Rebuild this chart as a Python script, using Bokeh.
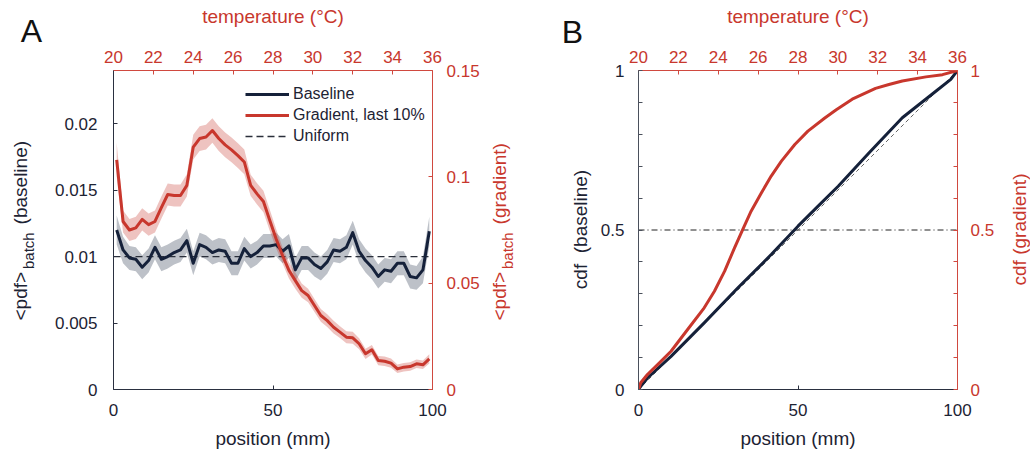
import math
from bokeh.plotting import figure
from bokeh.models import Range1d, LinearAxis, FixedTicker, Label, Legend, LegendItem
from bokeh.layouts import row
from bokeh.embed import file_html
from bokeh.resources import INLINE

# ---------------- data ----------------
position_mm = [1, 3, 5, 7, 9, 11, 13, 15, 17, 19, 21, 23, 25, 27, 29, 31, 33, 35, 37, 39,
               41, 43, 45, 47, 49, 51, 53, 55, 57, 59, 61, 63, 65, 67, 69, 71, 73, 75, 77, 79,
               81, 83, 85, 87, 89, 91, 93, 95, 97, 99]

baseline_pdf = [0.0120, 0.0105, 0.0099, 0.0098, 0.0092, 0.0097, 0.0107, 0.0098, 0.0100, 0.0103,
                0.0105, 0.0112, 0.0095, 0.0109, 0.0107, 0.0103, 0.0105, 0.0104, 0.0095, 0.0095,
                0.0106, 0.0100, 0.0103, 0.0108, 0.0108, 0.0109, 0.0104, 0.0108, 0.0090, 0.0099,
                0.0099, 0.0094, 0.0091, 0.0096, 0.0105, 0.0104, 0.0107, 0.0118, 0.0104, 0.0097,
                0.0092, 0.0085, 0.0090, 0.0089, 0.0095, 0.0095, 0.0085, 0.0084, 0.0090, 0.0119]

baseline_sem = [0.0011, 0.0010, 0.0009, 0.0009, 0.0009, 0.0009, 0.0009, 0.0009, 0.0009, 0.0009,
                0.0009, 0.0009, 0.0009, 0.0009, 0.0009, 0.0009, 0.0009, 0.0009, 0.0009, 0.0009,
                0.0009, 0.0009, 0.0009, 0.0009, 0.0009, 0.0009, 0.0009, 0.0009, 0.0009, 0.0009,
                0.0009, 0.0009, 0.0009, 0.0009, 0.0009, 0.0009, 0.0009, 0.0009, 0.0009, 0.0009,
                0.0009, 0.0009, 0.0009, 0.0009, 0.0009, 0.0009, 0.0009, 0.0009, 0.0010, 0.0011]

gradient_pdf = [0.108, 0.079, 0.075, 0.076, 0.080, 0.0775, 0.079, 0.0855, 0.0917, 0.0912,
                0.0912, 0.096, 0.114, 0.118, 0.1187, 0.1218, 0.118, 0.115, 0.1127, 0.110,
                0.107, 0.096, 0.092, 0.0884, 0.0795, 0.0708, 0.063, 0.056, 0.0512, 0.0465,
                0.0442, 0.0395, 0.0348, 0.0324, 0.0293, 0.027, 0.0246, 0.0243, 0.0215, 0.0168,
                0.0187, 0.0136, 0.0133, 0.0124, 0.0097, 0.0105, 0.0108, 0.0121, 0.0116, 0.0144]

gradient_sem = [0.0080, 0.0052, 0.0052, 0.0052, 0.0052, 0.0052, 0.0052, 0.0052, 0.0052, 0.0052,
                0.0052, 0.0052, 0.0058, 0.0058, 0.0058, 0.0058, 0.0058, 0.0058, 0.0058, 0.0058,
                0.0058, 0.0050, 0.0050, 0.0050, 0.0050, 0.0045, 0.0038, 0.0038, 0.0038, 0.0034,
                0.0032, 0.0030, 0.0030, 0.0030, 0.0030, 0.0028, 0.0028, 0.0028, 0.0026, 0.0024,
                0.0022, 0.0022, 0.0022, 0.0022, 0.0020, 0.0020, 0.0020, 0.0020, 0.0020, 0.0022]

uniform_x = [0, 100]
uniform_pdf = [0.01, 0.01]

cdf_base_x = [0, 0.7, 2.8, 10.2, 20.6, 31.1, 41.6, 50.0, 56.3, 62.6, 72.3, 82.7, 93.2, 97.9, 100]
cdf_base = [0, 0.010, 0.036, 0.104, 0.209, 0.318, 0.423, 0.512, 0.575, 0.637, 0.742, 0.852,
            0.935, 0.972, 1.0]

cdf_grad_x = [0, 0.7, 2.8, 6.0, 10.2, 15.4, 20.6, 23.8, 27.0, 30.1, 32.7, 35.3, 38.5, 41.6,
              44.8, 49.0, 53.1, 58.4, 62.0, 67.0, 74.3, 78.5, 82.7, 90.1, 95.3, 100]
cdf_grad = [0, 0.021, 0.047, 0.078, 0.120, 0.188, 0.256, 0.308, 0.371, 0.444, 0.502, 0.559,
            0.616, 0.669, 0.716, 0.768, 0.810, 0.851, 0.877, 0.910, 0.944, 0.956, 0.967,
            0.980, 0.987, 1.0]

uniform_cdf_x = [0, 100]
uniform_cdf = [0, 1]
half_x = [0, 100]
half_y = [0.5, 0.5]

pos_ticks = [0, 50, 100]
pos_tick_labels = ["0", "50", "100"]
temp_ticks = [20, 22, 24, 26, 28, 30, 32, 34, 36]
temp_tick_labels = ["20", "22", "24", "26", "28", "30", "32", "34", "36"]
pdf_base_ticks = [0, 0.005, 0.01, 0.015, 0.02]
pdf_base_tick_labels = ["0", "0.005", "0.01", "0.015", "0.02"]
pdf_grad_ticks = [0, 0.05, 0.1, 0.15]
pdf_grad_tick_labels = ["0", "0.05", "0.1", "0.15"]
cdf_ticks = [0, 0.5, 1]
cdf_tick_labels = ["0", "0.5", "1"]
cdf_minor_ticks = [0.1, 0.2, 0.3, 0.4, 0.6, 0.7, 0.8, 0.9]

# ---------------- style ----------------
FONT = "Liberation Sans"
NAVY = "#15213a"
RED = "#c8372d"
RED_AXIS = "#d0493f"
DARK = "#1d2333"
TICK_FS = "17px"
LABEL_FS = "19px"
NB = "\u00a0"
GAP = NB * 9

# frame geometry (page px) used to place free text labels
A_L, A_T, A_W, A_H = 113, 70, 319, 319
B_L, B_T, B_W, B_H = 638, 70, 319, 319


def style_axis(ax, line_color, text_color, ticks, labels, minor=None, standoff=14):
    ax.ticker = FixedTicker(ticks=ticks, minor_ticks=minor or [])
    ax.major_label_overrides = dict(zip(ticks, labels))
    ax.axis_line_color = line_color
    ax.axis_line_width = 1
    ax.major_tick_line_color = line_color
    ax.major_tick_in = 4
    ax.major_tick_out = 0
    if minor:
        ax.minor_tick_line_color = line_color
        ax.minor_tick_in = 4
        ax.minor_tick_out = 0
    else:
        ax.minor_tick_line_color = None
    ax.major_label_text_color = text_color
    ax.major_label_text_font = FONT
    ax.major_label_text_font_size = TICK_FS
    ax.major_label_standoff = standoff


def base_fig(x_rng, y_rng, t_rng, r_rng, left, right):
    p = figure(frame_width=319, frame_height=319, x_range=x_rng, y_range=y_rng,
               min_border_left=left, min_border_right=right, min_border_top=70,
               min_border_bottom=68, output_backend="svg", toolbar_location=None)
    p.extra_x_ranges = {"temp": t_rng}
    p.extra_y_ranges = {"grad": r_rng}
    p.add_layout(LinearAxis(x_range_name="temp"), "above")
    p.add_layout(LinearAxis(y_range_name="grad"), "right")
    p.xgrid.visible = False
    p.ygrid.visible = False
    p.outline_line_color = None
    p.background_fill_color = "white"
    p.border_fill_color = "white"
    return p


def add_text(p, place, x, y, text, size, color, angle=0.0, align="center"):
    p.add_layout(Label(x=x, y=y, text=text, angle=angle, text_align=align,
                       text_baseline="middle", text_font=FONT, text_font_size=size,
                       text_color=color), place)


def style_xlabel(ax):
    ax.axis_label = "position (mm)"
    ax.axis_label_text_font = FONT
    ax.axis_label_text_font_size = LABEL_FS
    ax.axis_label_text_font_style = "normal"
    ax.axis_label_text_color = DARK
    ax.axis_label_standoff = 9


# ---------------- panel A ----------------
pA = base_fig(Range1d(0, 100), Range1d(0, 0.024), Range1d(20, 36), Range1d(0, 0.15), 113, 118)
style_axis(pA.below[0], "#2a3040", DARK, pos_ticks, pos_tick_labels, standoff=14)
style_axis(pA.left[0], "#2a3040", DARK, pdf_base_ticks, pdf_base_tick_labels, standoff=16)
style_axis(pA.above[0], RED_AXIS, RED, temp_ticks, temp_tick_labels, standoff=8)
style_axis(pA.right[0], RED_AXIS, RED, pdf_grad_ticks, pdf_grad_tick_labels, standoff=14)
style_xlabel(pA.below[0])

base_lo = [m - s for m, s in zip(baseline_pdf, baseline_sem)]
base_hi = [m + s for m, s in zip(baseline_pdf, baseline_sem)]
grad_lo = [m - s for m, s in zip(gradient_pdf, gradient_sem)]
grad_hi = [m + s for m, s in zip(gradient_pdf, gradient_sem)]

pA.varea(x=position_mm, y1=base_lo, y2=base_hi, fill_color="#b9bec5", fill_alpha=0.95)
pA.varea(x=position_mm, y1=grad_lo, y2=grad_hi, fill_color=RED, fill_alpha=0.3,
         y_range_name="grad")
r_uni = pA.line(uniform_x, uniform_pdf, line_color="#2a2f3a", line_width=1.3, line_dash="7 4")
r_base = pA.line(position_mm, baseline_pdf, line_color=NAVY, line_width=3, line_join="round")
r_grad = pA.line(position_mm, gradient_pdf, line_color=RED, line_width=3, line_join="round",
                 y_range_name="grad")

legend = Legend(items=[LegendItem(label="Baseline", renderers=[r_base]),
                       LegendItem(label="Gradient, last 10%", renderers=[r_grad]),
                       LegendItem(label="Uniform", renderers=[r_uni])],
                location=(132, 243), border_line_color=None, background_fill_alpha=0,
                padding=0, margin=0, spacing=1, glyph_width=44, glyph_height=20,
                label_height=20, label_standoff=4, label_text_font=FONT,
                label_text_font_size="16px", label_text_color=DARK)
pA.add_layout(legend)


def ax_(px):
    return (px - A_L) / A_W * 100


def ay_(py):
    return (A_T + A_H - py) / A_H * 0.024


add_text(pA, "above", ax_(272.5), ay_(16), "temperature (°C)", LABEL_FS, RED)
add_text(pA, "left", ax_(20), ay_(320), "<pdf>" + GAP + "(baseline)", LABEL_FS, DARK,
         math.pi / 2, "left")
add_text(pA, "left", ax_(27.5), ay_(268.5), "batch", "15px", DARK, math.pi / 2, "left")
add_text(pA, "right", ax_(499), ay_(320), "<pdf>" + GAP + "(gradient)", LABEL_FS, RED,
         math.pi / 2, "left")
add_text(pA, "right", ax_(506.5), ay_(268.5), "batch", "15px", RED, math.pi / 2, "left")
add_text(pA, "right", ax_(31), ay_(30), "A", "32px", "#111111")

# ---------------- panel B ----------------
pB = base_fig(Range1d(0, 100), Range1d(0, 1), Range1d(20, 36), Range1d(0, 1), 88, 73)
style_axis(pB.below[0], "#2a3040", DARK, pos_ticks, pos_tick_labels, standoff=14)
style_axis(pB.left[0], "#4a505c", DARK, cdf_ticks, cdf_tick_labels, minor=cdf_minor_ticks,
           standoff=14)
style_axis(pB.above[0], RED_AXIS, RED, temp_ticks, temp_tick_labels, standoff=8)
style_axis(pB.right[0], RED_AXIS, RED, cdf_ticks, cdf_tick_labels, minor=cdf_minor_ticks,
           standoff=13)
style_xlabel(pB.below[0])

pB.line(half_x, half_y, line_color="#222222", line_width=1, line_dash="6 3 1 3")
pB.line(uniform_cdf_x, uniform_cdf, line_color="#666666", line_width=1, line_dash="4 3")
pB.line(cdf_base_x, cdf_base, line_color=NAVY, line_width=3, line_join="round")
pB.line(cdf_grad_x, cdf_grad, line_color=RED, line_width=3, line_join="round",
        y_range_name="grad")


def bx_(px):
    return (px - B_L) / B_W * 100


def by_(py):
    return (B_T + B_H - py) / B_H * 1.0


add_text(pB, "left", bx_(572), by_(31), "B", "32px", "#111111")
add_text(pB, "above", bx_(797.5), by_(16), "temperature (°C)", LABEL_FS, RED)
add_text(pB, "left", bx_(580), by_(229), "cdf" + NB + " (baseline)", LABEL_FS, DARK, math.pi / 2)
add_text(pB, "right", bx_(1019), by_(229), "cdf (gradient)", LABEL_FS, RED, math.pi / 2)

layout = row(pA, pB)
open("out.html", "w").write(file_html(layout, INLINE))
